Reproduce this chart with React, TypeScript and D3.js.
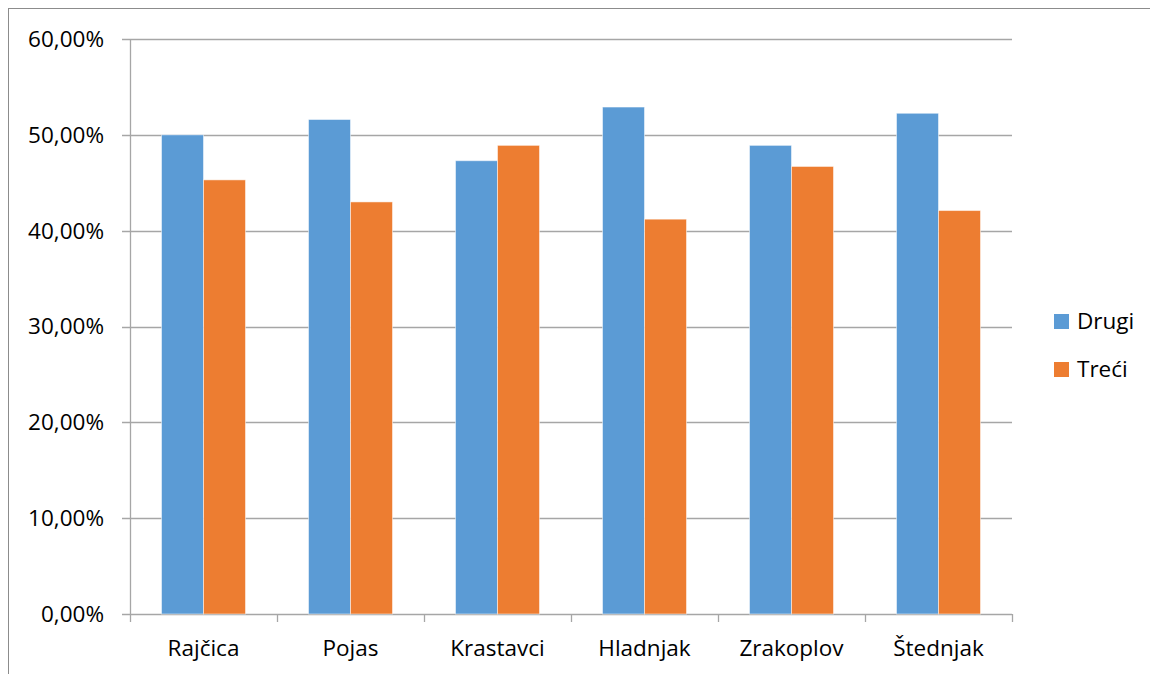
import React from "react";
import * as d3 from "d3";

const categories = ["Rajčica", "Pojas", "Krastavci", "Hladnjak", "Zrakoplov", "Štednjak"];
const drugi = [0.5, 0.516, 0.473, 0.529, 0.489, 0.5225];
const treci = [0.453, 0.43, 0.489, 0.412, 0.467, 0.421];
const seriesNames = ["Drugi", "Treći"];
const seriesColors = ["#5B9BD5", "#ED7D31"];
const yTicks = [0, 0.1, 0.2, 0.3, 0.4, 0.5, 0.6];

const W = 1150;
const H = 674;
const left = 130;
const right = 1012;
const top = 39;
const bottom = 614;
const FONT = "'Open Sans', sans-serif";
const FS = 22.5;

export default function App() {
  const x = d3.scaleBand<string>().domain(categories).range([left, right]).paddingInner(0).paddingOuter(0);
  const y = d3.scaleLinear().domain([0, 0.6]).range([bottom, top]);
  const bw = x.bandwidth();
  const barW = bw * (42 / 147);
  const groupOff = (bw - 2 * barW) / 2;
  const fmt = (v: number) => (v * 100).toFixed(2).replace(".", ",") + "%";
  const series = [drugi, treci];

  return (
    <svg width={W} height={H} style={{ position: "absolute", left: 0, top: 0, background: "#fff" }}>
      <rect x={0} y={0} width={W} height={H} fill="#fff" />
      <rect x={8.5} y={8.5} width={W + 20} height={H + 20} fill="none" stroke="#8c8c8c" strokeWidth={1} />
      {yTicks.map((t) => (
        <g key={t}>
          <line x1={left - 8} x2={right} y1={Math.round(y(t)) + 0.5} y2={Math.round(y(t)) + 0.5} stroke="#a6a6a6" strokeWidth={1.3} />
          <text x={104} y={y(t)} dy="0.35em" textAnchor="end" fontFamily={FONT} fontSize={FS} fill="#000">
            {fmt(t)}
          </text>
        </g>
      ))}
      <line x1={left + 0.5} x2={left + 0.5} y1={top} y2={bottom} stroke="#a6a6a6" strokeWidth={1.3} />
      {categories.map((c, i) => (
        <line key={"t" + i} x1={x(c)! + 0.5} x2={x(c)! + 0.5} y1={bottom} y2={bottom + 8} stroke="#a6a6a6" strokeWidth={1.3} />
      ))}
      <line x1={right + 0.5} x2={right + 0.5} y1={bottom} y2={bottom + 8} stroke="#a6a6a6" strokeWidth={1.3} />
      {series.map((vals, si) =>
        vals.map((v, i) => {
          const bx = x(categories[i])! + groupOff + si * barW;
          return (
            <rect
              key={si + "-" + i}
              x={bx}
              y={y(v)}
              width={barW}
              height={bottom - y(v)}
              fill={seriesColors[si]}
              stroke="#ffffff"
              strokeOpacity={0.5}
              strokeWidth={1}
            />
          );
        })
      )}
      {categories.map((c) => (
        <text key={c} x={x(c)! + bw / 2} y={656} textAnchor="middle" fontFamily={FONT} fontSize={FS} fill="#000">
          {c}
        </text>
      ))}
      {seriesNames.map((n, i) => (
        <g key={n}>
          <rect x={1054} y={314 + i * 48} width={15} height={15} fill={seriesColors[i]} />
          <text x={1077} y={329 + i * 48} fontFamily={FONT} fontSize={FS} fill="#000">
            {n}
          </text>
        </g>
      ))}
    </svg>
  );
}
